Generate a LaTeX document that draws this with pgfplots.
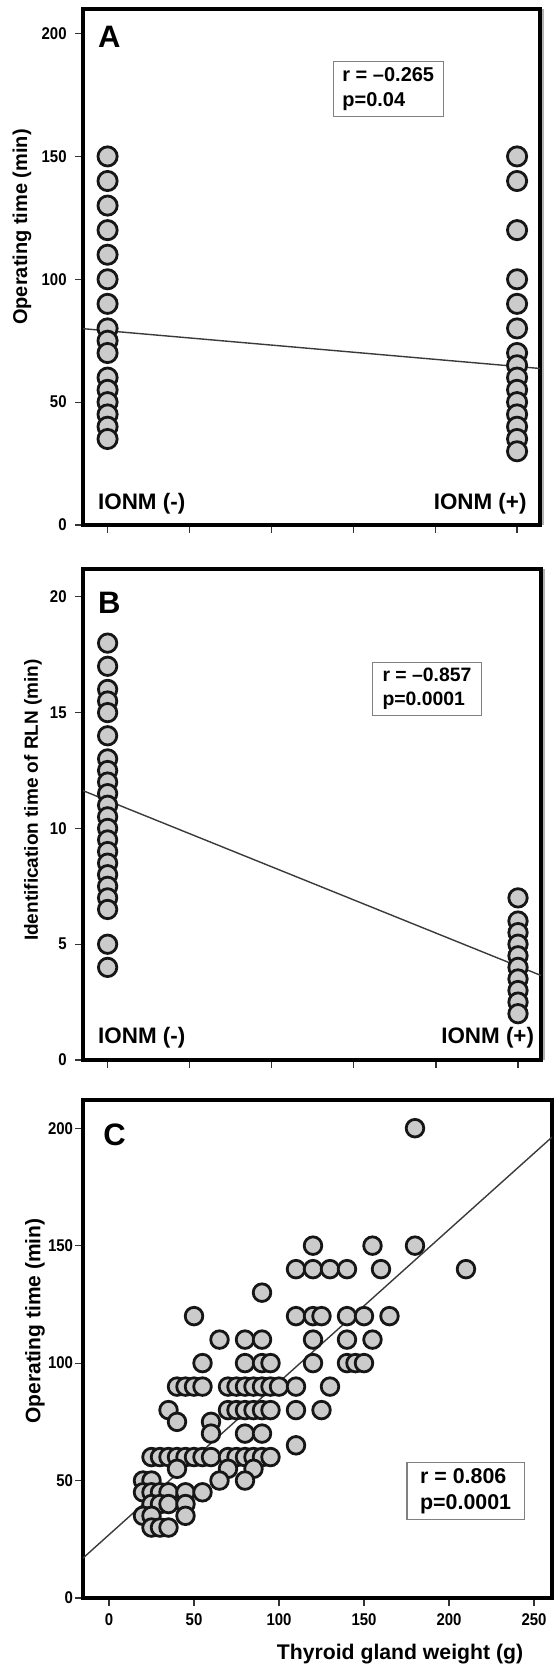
\documentclass[border=0pt]{standalone}
\usepackage{fontspec}
\setmainfont{Liberation Sans}
\newfontfamily\narrowfont[FakeStretch=0.88]{Liberation Sans}
\usepackage{pgfplots}
\pgfplotsset{compat=1.18}
\definecolor{dotfill}{HTML}{CBCBCB}
\definecolor{dotedge}{HTML}{161616}
\definecolor{fitline}{HTML}{3A3A3A}

\pgfplotsset{
  panel/.style={
    scale only axis,
    anchor=north west,
    axis line style={line width=1.8pt,black},
    tick align=outside,
    major tick length=4pt,
    tick style={line width=0.6pt,black!80},
    xtick pos=bottom, ytick pos=left,
    tick label style={font=\narrowfont\bfseries\fontsize{8.5}{9}\selectfont},
    /pgf/number format/assume math mode=true,
    yticklabel style={inner xsep=4pt},
    xticklabel style={inner ysep=3.5pt},
    clip=false,
  },
  dots/.style={only marks, mark=*, mark size=4.8pt,
    mark options={fill=dotfill, draw=dotedge, line width=1.4pt}},
  fitl/.style={no marks, fitline, line width=0.7pt},
}
\tikzset{
  rbox/.style={draw=gray, line width=0.6pt, anchor=north west, align=left,
    inner ysep=3pt},
  tag/.style={anchor=west, inner sep=0pt, font=\bfseries\fontsize{15.5}{15.5}\selectfont},
  grp/.style={inner sep=0pt, font=\bfseries\fontsize{11.2}{12}\selectfont},
  shade/.style={gray!60, line width=1.2pt},
}

\begin{document}
\begin{tikzpicture}
\useasboundingbox (0,0) rectangle (277.5pt,-832pt);

% ---------------- A
\begin{axis}[panel, at={(41.5pt,-4.5pt)}, width=228.5pt, height=258pt,
    xmin=-0.3, xmax=5.28, ymin=0, ymax=210,
    xtick={0,1,2,3,4,5}, xticklabels={},
    ytick={0,50,100,150,200}]
  \addplot[dots] coordinates {
    (0,150)(0,140)(0,130)(0,120)(0,110)(0,100)(0,90)(0,80)(0,75)(0,70)
    (0,60)(0,55)(0,50)(0,45)(0,40)(0,35)};
  \addplot[dots] coordinates {
    (5,150)(5,140)(5,120)(5,100)(5,90)(5,80)(5,70)(5,65)(5,60)(5,55)
    (5,50)(5,45)(5,40)(5,35)(5,30)};
  \addplot[fitl] coordinates {(-0.3,79.9)(5.28,63.7)};
  \draw[shade] ([xshift=1.5pt]rel axis cs:1,0) -- ([xshift=1.5pt]rel axis cs:1,1);
  \node[tag] at (axis cs:-0.12,198.5) {A};
  \node[rbox, inner xsep=4.5pt,
        font=\bfseries\fontsize{10}{12.5}\selectfont]
        at (axis cs:2.75,189) {r = –0.265\\p=0.04};
  \node[grp, anchor=west] at (axis cs:-0.12,8.5) {IONM (-)};
  \node[grp, anchor=east] at (axis cs:5.12,8.5) {IONM (+)};
\end{axis}

% ---------------- B
\begin{axis}[panel, at={(41.5pt,-284.5pt)}, width=229pt, height=245.5pt,
    xmin=-0.3, xmax=5.28, ymin=0, ymax=21.2,
    xtick={0,1,2,3,4,5}, xticklabels={},
    ytick={0,5,10,15,20}]
  \addplot[dots, mark size=4.6pt] coordinates {
    (0,18)(0,17)(0,16)(0,15.5)(0,15)(0,14)(0,13)(0,12.5)(0,12)(0,11.5)
    (0,11)(0,10.5)(0,10)(0,9.5)(0,9)(0,8.5)(0,8)(0,7.5)(0,7)(0,6.5)
    (0,5)(0,4)};
  \addplot[dots, mark size=4.6pt] coordinates {
    (5,7)(5,6)(5,5.5)(5,5)(5,4.5)(5,4)(5,3.5)(5,3)(5,2.5)(5,2)};
  \addplot[fitl] coordinates {(-0.3,11.63)(5.28,3.65)};
  \draw[shade] ([xshift=1.5pt]rel axis cs:1,0) -- ([xshift=1.5pt]rel axis cs:1,1);
  \node[tag] at (axis cs:-0.12,19.75) {B};
  \node[rbox, inner xsep=5pt,
        font=\bfseries\fontsize{9.7}{12}\selectfont]
        at (axis cs:3.22,17.2) {r = –0.857\\p=0.0001};
  \node[grp, anchor=west] at (axis cs:-0.12,0.95) {IONM (-)};
  \node[grp, anchor=east] at (axis cs:5.2,0.95) {IONM (+)};
\end{axis}

% ---------------- C
\begin{axis}[panel, at={(41.5pt,-550pt)}, width=234.5pt, height=249pt,
    xmin=-15.3, xmax=260.6, ymin=0, ymax=212,
    xtick={0,50,100,150,200,250},
    ytick={0,50,100,150,200},
    yticklabel style={inner xsep=0.8pt}]
  \addplot[dots, mark size=4.4pt] coordinates {
    (180,200)
    (120,150)(155,150)(180,150)
    (110,140)(120,140)(130,140)(140,140)(160,140)(210,140)
    (90,130)
    (50,120)(110,120)(120,120)(125,120)(140,120)(150,120)(165,120)
    (65,110)(80,110)(90,110)(120,110)(140,110)(155,110)
    (55,100)(80,100)(90,100)(95,100)(120,100)(140,100)(145,100)(150,100)
    (40,90)(45,90)(50,90)(55,90)(70,90)(75,90)(80,90)(85,90)(90,90)
    (95,90)(100,90)(110,90)(130,90)
    (35,80)(70,80)(75,80)(80,80)(85,80)(90,80)(95,80)(110,80)(125,80)
    (40,75)(60,75)
    (60,70)(80,70)(90,70)
    (110,65)
    (25,60)(30,60)(35,60)(40,60)(45,60)(50,60)(55,60)(60,60)(70,60)
    (75,60)(80,60)(85,60)(90,60)(95,60)
    (40,55)(70,55)(85,55)
    (20,50)(25,50)(65,50)(80,50)
    (20,45)(25,45)(30,45)(35,45)(45,45)(55,45)
    (25,40)(30,40)(35,40)(45,40)
    (20,35)(25,35)(45,35)
    (25,30)(30,30)(35,30)};
  \addplot[fitl] coordinates {(-15.3,17)(260.6,196.2)};
  \node[tag] at (axis cs:-3.5,197) {C};
  \node[rbox, inner xsep=6.5pt,
        font=\bfseries\fontsize{10.7}{13}\selectfont]
        at (axis cs:175,58) {r = 0.806\\p=0.0001};
\end{axis}

% axis titles
\node[rotate=90, font=\bfseries\fontsize{10}{12}\selectfont] at (11pt,-113.5pt) {Operating time (min)};
\node[rotate=90, font=\bfseries\fontsize{9.5}{12}\selectfont] at (16.5pt,-400pt) {Identification time of RLN (min)};
\node[rotate=90, font=\bfseries\fontsize{10.5}{12}\selectfont] at (17.5pt,-660.5pt) {Operating time (min)};
\node[anchor=base, font=\bfseries\fontsize{10.6}{12}\selectfont] at (200pt,-829.5pt) {Thyroid gland weight (g)};
\end{tikzpicture}
\end{document}
